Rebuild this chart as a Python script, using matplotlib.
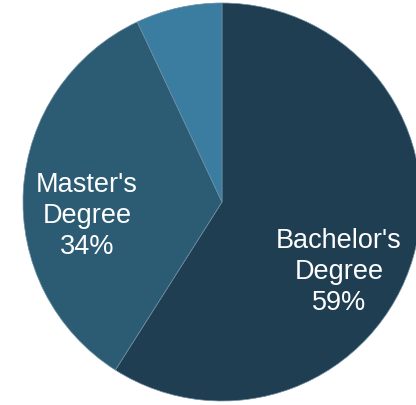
import matplotlib.pyplot as plt

# degree share
categories = ["Bachelor's Degree", "Master's Degree", "Other"]
shares = [59, 34, 7]
show_label = [True, True, False]
colors = ["#1f3e52", "#2c5b74", "#3b7ca1"]

# label anchors (pixel coords, origin bottom-left)
label_pos = [(339, 134), (87, 190), None]


def show_pie_image():
    fig = plt.figure(figsize=(4.16, 4.06), dpi=100)
    ax = fig.add_axes([0, 0, 1, 1])
    ax.pie(
        shares,
        colors=colors,
        startangle=90,
        counterclock=False,
        center=(222, 203),
        radius=199,
        wedgeprops={"edgecolor": "#6f8ea3", "linewidth": 0.5},
        frame=True,
    )
    for name, val, show, pos in zip(categories, shares, show_label, label_pos):
        if not show:
            continue
        first, second = name.split(" ")
        ax.text(pos[0], pos[1], f"{first}\n{second}\n{val}%",
                ha="center", va="center", multialignment="center",
                color="white", fontsize=19.5, linespacing=1.24,
                family="Liberation Sans")
    ax.set_xlim(0, 416)
    ax.set_ylim(0, 406)
    ax.set_aspect("equal")
    ax.axis("off")
    fig.savefig("out.png", dpi=100, facecolor="white")


if __name__ == '__main__':
    show_pie_image()
